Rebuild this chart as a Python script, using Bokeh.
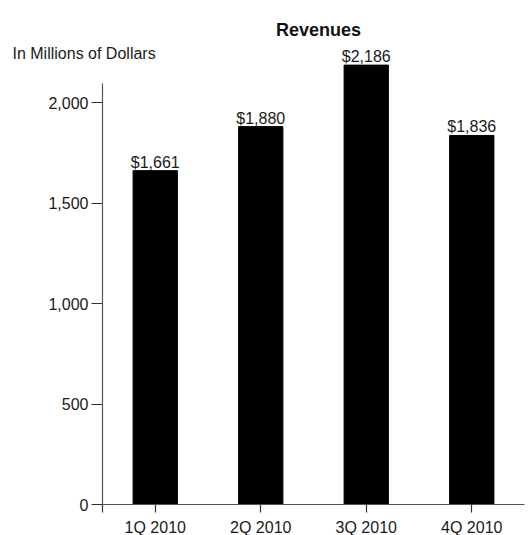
from bokeh.plotting import figure
from bokeh.models import ColumnDataSource, Range1d, FixedTicker, NumeralTickFormatter, Label, LabelSet
from bokeh.core.properties import value
from bokeh.embed import file_html
from bokeh.resources import INLINE

quarters = ["1Q 2010", "2Q 2010", "3Q 2010", "4Q 2010"]
revenues = [1661, 1880, 2186, 1836]
y_ticks = [0, 500, 1000, 1500, 2000]
title_text = "Revenues"
unit_text = "In Millions of Dollars"

W, H = 532, 535
# plot-area geometry (pixels on the canvas)
AX_LEFT, AX_RIGHT = 102, 524      # x-axis extent
AX_BOTTOM = 504                   # y of value 0
PX_PER_UNIT = (504 - 102) / 2000  # y scale
Y_AXIS_TOP = 2095                 # y-axis line ends here (data units)
n = len(quarters)
px_per_cat = (AX_RIGHT - AX_LEFT) / n

centers = [i + 0.5 for i in range(n)]
labels = ["${:,}".format(v) for v in revenues]
source = ColumnDataSource(data=dict(x=centers, v=revenues, lab=labels))

x_start = -AX_LEFT / px_per_cat
x_end = (W - AX_LEFT) / px_per_cat
y_start = -(H - AX_BOTTOM) / PX_PER_UNIT
y_end = AX_BOTTOM / PX_PER_UNIT

FONT = "Liberation Sans"
TXT = "#1a1a1a"

p = figure(width=W, height=H, output_backend="svg", toolbar_location=None,
           x_range=Range1d(x_start, x_end), y_range=Range1d(y_start, y_end),
           min_border=0, min_border_left=0, min_border_right=0,
           min_border_top=0, min_border_bottom=0)
p.outline_line_color = None
p.xgrid.visible = False
p.ygrid.visible = False
p.background_fill_color = "white"
p.border_fill_color = "white"

p.vbar(x="x", top="v", width=0.42, source=source, fill_color="black", line_color="black")

ls = LabelSet(x="x", y="v", text="lab", source=source, y_offset=3,
              text_align="center", text_baseline="alphabetic",
              text_font=value(FONT), text_font_size="16px", text_color=TXT)
p.add_layout(ls)

for ax in (p.xaxis, p.yaxis):
    ax.fixed_location = 0
    ax.axis_line_color = "#555555"
    ax.axis_line_width = 1.2
    ax.major_tick_line_color = "#333333"
    ax.major_tick_line_width = 1.2
    ax.minor_tick_line_color = None
    ax.major_tick_in = 0
    ax.major_label_text_font = FONT
    ax.major_label_text_font_size = "16px"
    ax.major_label_text_color = TXT

p.yaxis.ticker = FixedTicker(ticks=y_ticks)
p.yaxis.formatter = NumeralTickFormatter(format="0,0")
p.yaxis.bounds = (0, Y_AXIS_TOP)
p.yaxis.major_tick_out = 11
p.yaxis.major_label_standoff = 3

p.xaxis.ticker = FixedTicker(ticks=[0] + centers)
p.xaxis.major_label_overrides = {**{0: ""}, **{c: q for c, q in zip(centers, quarters)}}
p.xaxis.bounds = (0, n)
p.xaxis.major_tick_out = 8
p.xaxis.major_label_standoff = 6

p.add_layout(Label(x=318, y=H - 29, x_units="screen", y_units="screen", text=title_text,
                   text_align="center", text_baseline="alphabetic",
                   text_font=FONT, text_font_size="18px", text_font_style="bold", text_color="#111111"))
p.add_layout(Label(x=12, y=H - 53, x_units="screen", y_units="screen", text=unit_text,
                   text_align="left", text_baseline="alphabetic",
                   text_font=FONT, text_font_size="16px", text_color=TXT))

open("out.html", "w").write(file_html(p, INLINE))
